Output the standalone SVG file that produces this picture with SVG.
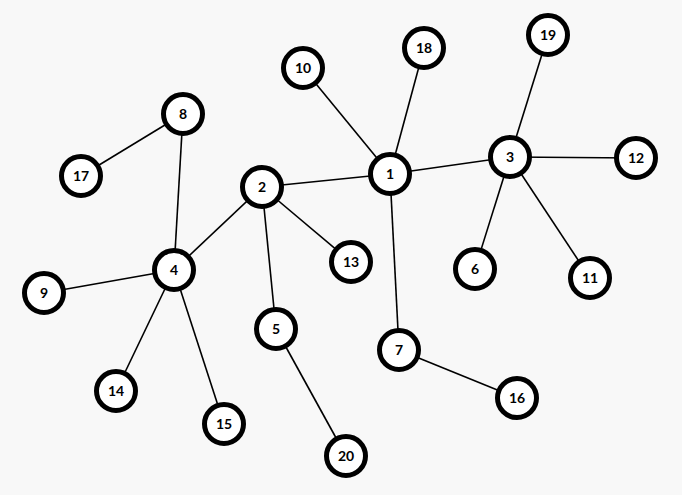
<svg xmlns="http://www.w3.org/2000/svg" width="682" height="495" viewBox="0 0 682 495">
<style>
.e{stroke:#000;stroke-width:1.6;fill:none}
.n circle{fill:#fff;stroke:#000;stroke-width:5}
.n text{font-family:Lato,"Liberation Sans",sans-serif;font-weight:bold;font-size:14px;text-anchor:middle;fill:#000}
</style>
<rect width="682" height="495" fill="#f8f8f8"/>
<g id="edges">
<line class="e" x1="390" y1="174" x2="262" y2="187"/>
<line class="e" x1="390" y1="174" x2="510" y2="157"/>
<line class="e" x1="390" y1="174" x2="303" y2="68"/>
<line class="e" x1="390" y1="174" x2="424" y2="48"/>
<line class="e" x1="390" y1="174" x2="399" y2="350"/>
<line class="e" x1="510" y1="157" x2="548" y2="35"/>
<line class="e" x1="510" y1="157" x2="636" y2="158"/>
<line class="e" x1="510" y1="157" x2="475" y2="269"/>
<line class="e" x1="510" y1="157" x2="590" y2="278"/>
<line class="e" x1="262" y1="187" x2="174" y2="270"/>
<line class="e" x1="262" y1="187" x2="351" y2="262"/>
<line class="e" x1="262" y1="187" x2="276" y2="329"/>
<line class="e" x1="276" y1="329" x2="346" y2="456"/>
<line class="e" x1="399" y1="350" x2="517" y2="398"/>
<line class="e" x1="174" y1="270" x2="183" y2="114"/>
<line class="e" x1="183" y1="114" x2="81" y2="176"/>
<line class="e" x1="174" y1="270" x2="44" y2="293"/>
<line class="e" x1="174" y1="270" x2="116" y2="391"/>
<line class="e" x1="174" y1="270" x2="224" y2="424"/>
</g>
<g id="node1" class="n"><circle cx="390" cy="174" r="19.5"/><text x="390" y="179">1</text></g>
<g id="node2" class="n"><circle cx="262" cy="187" r="19.5"/><text x="262" y="192">2</text></g>
<g id="node3" class="n"><circle cx="510" cy="157" r="19.5"/><text x="510" y="162">3</text></g>
<g id="node4" class="n"><circle cx="174" cy="270" r="19.5"/><text x="174" y="275">4</text></g>
<g id="node5" class="n"><circle cx="276" cy="329" r="19.5"/><text x="276" y="334">5</text></g>
<g id="node6" class="n"><circle cx="475" cy="269" r="19.5"/><text x="475" y="274">6</text></g>
<g id="node7" class="n"><circle cx="399" cy="350" r="19.5"/><text x="399" y="355">7</text></g>
<g id="node8" class="n"><circle cx="183" cy="114" r="19.5"/><text x="183" y="119">8</text></g>
<g id="node9" class="n"><circle cx="44" cy="293" r="19.5"/><text x="44" y="298">9</text></g>
<g id="node10" class="n"><circle cx="303" cy="68" r="19.5"/><text x="303" y="73">10</text></g>
<g id="node11" class="n"><circle cx="590" cy="278" r="19.5"/><text x="590" y="283">11</text></g>
<g id="node12" class="n"><circle cx="636" cy="158" r="19.5"/><text x="636" y="163">12</text></g>
<g id="node13" class="n"><circle cx="351" cy="262" r="19.5"/><text x="351" y="267">13</text></g>
<g id="node14" class="n"><circle cx="116" cy="391" r="19.5"/><text x="116" y="396">14</text></g>
<g id="node15" class="n"><circle cx="224" cy="424" r="19.5"/><text x="224" y="429">15</text></g>
<g id="node16" class="n"><circle cx="517" cy="398" r="19.5"/><text x="517" y="403">16</text></g>
<g id="node17" class="n"><circle cx="81" cy="176" r="19.5"/><text x="81" y="181">17</text></g>
<g id="node18" class="n"><circle cx="424" cy="48" r="19.5"/><text x="424" y="53">18</text></g>
<g id="node19" class="n"><circle cx="548" cy="35" r="19.5"/><text x="548" y="40">19</text></g>
<g id="node20" class="n"><circle cx="346" cy="456" r="19.5"/><text x="346" y="461">20</text></g>
</svg>
